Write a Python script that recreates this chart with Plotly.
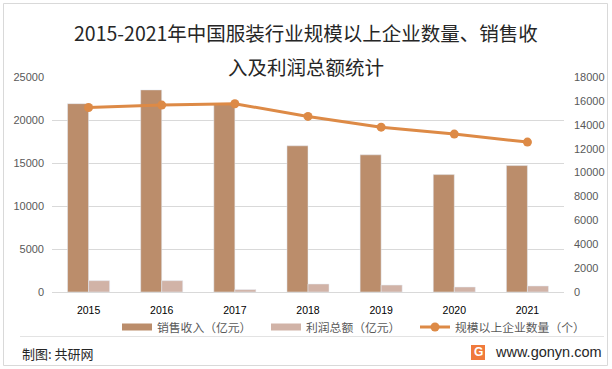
import plotly.graph_objects as go

years = ["2015", "2016", "2017", "2018", "2019", "2020", "2021"]
sales = [21900, 23500, 21850, 17000, 15950, 13650, 14700]
profit = [1320, 1320, 280, 930, 810, 580, 700]
companies = [15450, 15650, 15760, 14700, 13800, 13220, 12550]

left_ticks = [0, 5000, 10000, 15000, 20000, 25000]
right_ticks = [0, 2000, 4000, 6000, 8000, 10000, 12000, 14000, 16000, 18000]

C_SALES = "#BB8D6B"
C_PROFIT = "#D1B3A7"
C_LINE = "#DD8A46"
CJK = "Noto Sans CJK SC"
NUM = "Liberation Sans"

L, R, T, B = 52, 564, 77, 292  # plot area in pixels


def px_x(v):
    return (v - L) / (R - L)


def px_y(v):
    return (B - v) / (B - T)


fig = go.Figure()
fig.add_trace(go.Bar(x=years, y=sales, name="销售收入（亿元）", marker_color=C_SALES,
                     showlegend=False, yaxis="y"))
fig.add_trace(go.Bar(x=years, y=profit, name="利润总额（亿元）", marker_color=C_PROFIT,
                     showlegend=False, yaxis="y"))
fig.add_trace(go.Scatter(x=years, y=companies, name="规模以上企业数量（个）", mode="lines+markers",
                         line=dict(color=C_LINE, width=3), marker=dict(color=C_LINE, size=9),
                         yaxis="y2", showlegend=False))
# legend entries (each in its own legend for exact placement)
fig.add_trace(go.Scatter(x=[None], y=[None], mode="lines", name="销售收入（亿元）",
                         line=dict(color=C_SALES, width=7), legend="legend"))
fig.add_trace(go.Scatter(x=[None], y=[None], mode="lines", name="利润总额（亿元）",
                         line=dict(color=C_PROFIT, width=7), legend="legend2"))
fig.add_trace(go.Scatter(x=[None], y=[None], mode="lines+markers", name="规模以上企业数量（个）",
                         line=dict(color=C_LINE, width=3), marker=dict(color=C_LINE, size=9),
                         legend="legend3"))


def leg(xpx):
    return dict(orientation="h", xref="container", yref="container", x=xpx / 612, y=1 - 327 / 369,
                xanchor="left", yanchor="middle", font=dict(family=CJK, size=11.8, color="#595959"),
                itemclick=False, itemdoubleclick=False, bgcolor="rgba(0,0,0,0)")


fig.update_layout(
    width=612, height=369,
    margin=dict(l=L, r=612 - R, t=T, b=369 - B, autoexpand=False),
    paper_bgcolor="white", plot_bgcolor="white",
    barmode="group", bargap=0.425, bargroupgap=0,
    font=dict(family=CJK, color="#595959"),
    xaxis=dict(type="category", tickfont=dict(family=NUM, size=10.5, color="#000000"),
               showgrid=False, showline=True, linecolor="#D9D9D9", ticks="", automargin=False,
               ticklabelstandoff=8),
    yaxis=dict(range=[0, 25000], tickvals=left_ticks, ticktext=[str(v) for v in left_ticks],
               tickfont=dict(family=NUM, size=11, color="#595959"), automargin=False, ticklabelstandoff=7,
               showgrid=True, gridcolor="#D9D9D9", gridwidth=1, zeroline=False, showline=False, ticks=""),
    yaxis2=dict(range=[0, 18000], tickvals=right_ticks, ticktext=[str(v) for v in right_ticks],
                overlaying="y", side="right", automargin=False, ticklabelstandoff=9,
                tickfont=dict(family=NUM, size=11, color="#595959"), showgrid=False,
                zeroline=False, showline=False, ticks=""),
    legend=leg(117), legend2=leg(266), legend3=leg(415),
    showlegend=True,
)

for t, yy in [("2015-2021年中国服装行业规模以上企业数量、销售收", 32), ("入及利润总额统计", 66)]:
    fig.add_annotation(text=t, xref="paper", yref="paper", showarrow=False,
                       x=px_x(306), y=px_y(yy),
                       font=dict(family=CJK, size=19.5, color="#262626"), xanchor="center", yanchor="middle")

fig.add_annotation(text="制图: 共研网", xref="paper", yref="paper", showarrow=False,
                   x=px_x(20), y=px_y(353), xanchor="left", yanchor="middle",
                   font=dict(family=CJK, size=13, color="#262626"))
fig.add_annotation(text="www.gonyn.com", xref="paper", yref="paper", showarrow=False,
                   x=px_x(493), y=px_y(352), xanchor="left", yanchor="middle",
                   font=dict(family=NUM, size=14.5, color="#262626"))
fig.add_annotation(text="<b>G</b>", xref="paper", yref="paper", showarrow=False,
                   x=px_x(478), y=px_y(352), xanchor="center", yanchor="middle",
                   font=dict(family=NUM, size=12, color="white"))

shapes = [
    dict(type="rect", xref="paper", yref="paper", x0=px_x(3.5), x1=px_x(607.5), y0=px_y(3.5), y1=px_y(365.5),
         line=dict(color="#D9D9D9", width=1), fillcolor="rgba(0,0,0,0)", layer="above"),
    dict(type="line", xref="paper", yref="paper", x0=px_x(20), x1=px_x(604), y0=px_y(336.5), y1=px_y(336.5),
         line=dict(color="#E3E3E3", width=1), layer="above"),
    dict(type="rect", xref="paper", yref="paper", x0=px_x(471), x1=px_x(485), y0=px_y(345), y1=px_y(360),
         line=dict(width=0), fillcolor="#F07A3C", layer="above"),
]
fig.update_layout(shapes=shapes)

fig.write_html("out.html", config={"displayModeBar": False},
               post_script="document.body.style.margin='0';document.body.style.overflow='hidden';")
